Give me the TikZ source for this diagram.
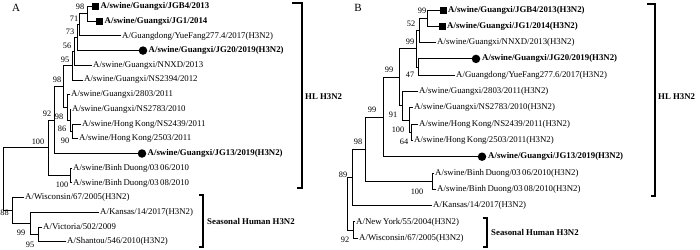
\documentclass[tikz,border=0pt]{standalone}
\usepackage{fontspec}
\setmainfont{Liberation Serif}
\newcommand\tfs{\fontsize{8.8}{10}\selectfont}
\newcommand\bfs{\fontsize{8.3}{9}\selectfont}
\begin{document}
\begin{tikzpicture}[x=1pt,y=-1pt,
  br/.style={line width=0.9pt, line cap=rect},
  lf/.style={anchor=west, inner sep=1pt, font=\tfs},
  blf/.style={anchor=west, inner sep=1pt, font=\tfs\bfseries},
  bs/.style={inner sep=0pt, font=\bfs},
  sq/.style={fill=black, minimum size=7pt, inner sep=0pt},
  dt/.style={circle, fill=black, minimum size=8.5pt, inner sep=0pt},
  brk/.style={line width=1.1pt},
  cl/.style={anchor=west, inner sep=0pt, font=\tfs\bfseries},
  pl/.style={inner sep=0pt, font=\fontsize{11}{12}\selectfont}]
\useasboundingbox (0,0) rectangle (700,249);

% ================= Panel A =================
\node[pl] (pA) at (16,8) {A};
% leaves
\node[sq] (mA1) at (95.5,6.5) {};
\node[blf] (tA1) at (99.5,6.5) {A/swine/Guangxi/JGB4/2013};
\node[sq] (mA2) at (99.5,21.2) {};
\node[blf] (tA2) at (103.5,21.2) {A/swine/Guangxi/JG1/2014};
\node[lf] (tA3) at (121,35.9) {A/Guangdong/YueFang277.4/2017(H3N2)};
\node[dt] (mA4) at (143,50.6) {};
\node[blf] (tA4) at (147.5,50.6) {A/swine/Guangxi/JG20/2019(H3N2)};
\node[lf] (tA5) at (92,65.3) {A/swine/Guangxi/NNXD/2013};
\node[lf] (tA6) at (83,80) {A/swine/Guangxi/NS2394/2012};
\node[lf] (tA7) at (70,94.7) {A/swine/Guangxi/2803/2011};
\node[lf] (tA8) at (71,109.4) {A/swine/Guangxi/NS2783/2010};
\node[lf] (tA9) at (81,124.1) {A/swine/Hong\,Kong/NS2439/2011};
\node[lf] (tA10) at (78,138.8) {A/swine/Hong\,Kong/2503/2011};
\node[dt] (mA11) at (142,153.5) {};
\node[blf] (tA11) at (146.5,153.5) {A/swine/Guangxi/JG13/2019(H3N2)};
\node[lf] (tA12) at (72,168.2) {A/swine/Binh\,Duong/03\,06/2010};
\node[lf] (tA13) at (72,182.9) {A/swine/Binh\,Duong/03\,08/2010};
\node[lf] (tA14) at (24,197.6) {A/Wisconsin/67/2005(H3N2)};
\node[lf] (tA15) at (99,212.3) {A/Kansas/14/2017(H3N2)};
\node[lf] (tA16) at (42,227) {A/Victoria/502/2009};
\node[lf] (tA17) at (66,241.7) {A/Shantou/546/2010(H3N2)};
% internal nodes
\coordinate (a1) at (87,13.85);
\coordinate (a2) at (79,24.9);
\coordinate (a3) at (77,37.75);
\coordinate (a4) at (74,51.5);
\coordinate (a5) at (72.5,65.75);
\coordinate (ab3) at (72,131.45);
\coordinate (ab2) at (70,120.4);
\coordinate (ab1) at (67,107.55);
\coordinate (aX) at (63,86.65);
\coordinate (ac) at (54,120.1);
\coordinate (ae) at (70,175.55);
\coordinate (ad) at (48,147.8);
\coordinate (ah3) at (38,234.35);
\coordinate (ah2) at (30,223.3);
\coordinate (ah1) at (12,210.45);
\coordinate (ar) at (3,179);
% branches
\draw[br] (a1) |- (mA1.west);  \draw[br] (a1) |- (mA2.west);
\draw[br] (a2) |- (a1);        \draw[br] (a2) |- (tA3.west);
\draw[br] (a3) |- (a2);        \draw[br] (a3) |- (mA4.west);
\draw[br] (a4) |- (a3);        \draw[br] (a4) |- (tA5.west);
\draw[br] (a5) |- (a4);        \draw[br] (a5) |- (tA6.west);
\draw[br] (ab3) |- (tA9.west); \draw[br] (ab3) |- (tA10.west);
\draw[br] (ab2) |- (tA8.west); \draw[br] (ab2) |- (ab3);
\draw[br] (ab1) |- (tA7.west); \draw[br] (ab1) |- (ab2);
\draw[br] (aX) |- (a5);        \draw[br] (aX) |- (ab1);
\draw[br] (ac) |- (aX);        \draw[br] (ac) |- (mA11.west);
\draw[br] (ae) |- (tA12.west); \draw[br] (ae) |- (tA13.west);
\draw[br] (ad) |- (ac);        \draw[br] (ad) |- (ae);
\draw[br] (ah3) |- (tA16.west);\draw[br] (ah3) |- (tA17.west);
\draw[br] (ah2) |- (tA15.west);\draw[br] (ah2) |- (ah3);
\draw[br] (ah1) |- (tA14.west);\draw[br] (ah1) |- (ah2);
\draw[br] (ar) |- (ad);        \draw[br] (ar) |- (ah1);
% bootstrap values
\node[bs] (sA1) at (80,7) {98};
\node[bs] (sA2) at (74,19) {71};
\node[bs] (sA3) at (70,32) {73};
\node[bs] (sA4) at (67,46) {56};
\node[bs] (sA5) at (65,60) {95};
\node[bs] (sA6) at (57,80) {98};
\node[bs] (sA7) at (59,117) {98};
\node[bs] (sA8) at (47,114) {92};
\node[bs] (sA9) at (62,129) {86};
\node[bs] (sA10) at (65,141) {90};
\node[bs] (sA11) at (38,142) {100};
\node[bs] (sA12) at (62,185) {100};
\node[bs] (sA13) at (4.5,213) {88};
\node[bs] (sA14) at (21,233) {99};
\node[bs] (sA15) at (30,245) {95};
% clade brackets
\coordinate (hA1) at (292,3);  \coordinate (hA2) at (302,3);
\coordinate (hA3) at (302,188);\coordinate (hA4) at (297,188);
\draw[brk] (hA1) -- (hA2) -- (hA3) -- (hA4);
\node[cl] (cA1) at (305,97) {HL H3N2};
\coordinate (sA1a) at (199,195); \coordinate (sA1b) at (203,195);
\coordinate (sA1c) at (203,247); \coordinate (sA1d) at (199,247);
\draw[brk] (sA1a) -- (sA1b) -- (sA1c) -- (sA1d);
\node[cl] (cA2) at (207,221) {Seasonal Human H3N2};

% ================= Panel B =================
\node[pl] (pB) at (358,8) {B};
\node[sq] (mB1) at (443,10) {};
\node[blf] (tB1) at (447,10) {A/swine/Guangxi/JGB4/2013(H3N2)};
\node[sq] (mB2) at (442,26.3) {};
\node[blf] (tB2) at (446,26.3) {A/swine/Guangxi/JG1/2014(H3N2)};
\node[lf] (tB3) at (436,42.6) {A/swine/Guangxi/NNXD/2013(H3N2)};
\node[dt] (mB4) at (476,58.9) {};
\node[blf] (tB4) at (481,58.9) {A/swine/Guangxi/JG20/2019(H3N2)};
\node[lf] (tB5) at (455,75.2) {A/Guangdong/YueFang277.6/2017(H3N2)};
\node[lf] (tB6) at (418,91.5) {A/swine/Guangxi/2803/2011(H3N2)};
\node[lf] (tB7) at (413,107.8) {A/swine/Guangxi/NS2783/2010(H3N2)};
\node[lf] (tB8) at (418,124.1) {A/swine/Hong\,Kong/NS2439/2011(H3N2)};
\node[lf] (tB9) at (413,140.4) {A/swine/Hong\,Kong/2503/2011(H3N2)};
\node[dt] (mB10) at (482,156.7) {};
\node[blf] (tB10) at (487,156.7) {A/swine/Guangxi/JG13/2019(H3N2)};
\node[lf] (tB11) at (434,173) {A/swine/Binh\,Duong/03\,06/2010(H3N2)};
\node[lf] (tB12) at (436,189.3) {A/swine/Binh\,Duong/03\,08/2010(H3N2)};
\node[lf] (tB13) at (432,205.6) {A/Kansas/14/2017(H3N2)};
\node[lf] (tB14) at (355,221.9) {A/New\,York/55/2004(H3N2)};
\node[lf] (tB15) at (358,238.2) {A/Wisconsin/67/2005(H3N2)};
\coordinate (b1) at (427,18.15);
\coordinate (b2) at (419,30.4);
\coordinate (bJY) at (418,67.05);
\coordinate (b3) at (416,48.7);
\coordinate (b7) at (411,132.25);
\coordinate (b6) at (409,120);
\coordinate (b5) at (402,105.75);
\coordinate (b4) at (399,77.2);
\coordinate (b8) at (383,116.95);
\coordinate (b11) at (432,181.15);
\coordinate (b10) at (365,149.05);
\coordinate (b12) at (352,177.3);
\coordinate (b13) at (353,230.05);
\coordinate (br0) at (347,200);
\draw[br] (b1) |- (mB1.west);  \draw[br] (b1) |- (mB2.west);
\draw[br] (b2) |- (b1);        \draw[br] (b2) |- (tB3.west);
\draw[br] (bJY) |- (mB4.west); \draw[br] (bJY) |- (tB5.west);
\draw[br] (b3) |- (b2);        \draw[br] (b3) |- (bJY);
\draw[br] (b7) |- (tB8.west);  \draw[br] (b7) |- (tB9.west);
\draw[br] (b6) |- (tB7.west);  \draw[br] (b6) |- (b7);
\draw[br] (b5) |- (tB6.west);  \draw[br] (b5) |- (b6);
\draw[br] (b4) |- (b3);        \draw[br] (b4) |- (b5);
\draw[br] (b8) |- (b4);        \draw[br] (b8) |- (mB10.west);
\draw[br] (b11) |- (tB11.west);\draw[br] (b11) |- (tB12.west);
\draw[br] (b10) |- (b8);       \draw[br] (b10) |- (b11);
\draw[br] (b12) |- (b10);      \draw[br] (b12) |- (tB13.west);
\draw[br] (b13) |- (tB14.west);\draw[br] (b13) |- (tB15.west);
\draw[br] (br0) |- (b12);      \draw[br] (br0) |- (b13);
\node[bs] (sB1) at (422,11) {99};
\node[bs] (sB2) at (411,24) {52};
\node[bs] (sB3) at (410,42) {99};
\node[bs] (sB4) at (410,75) {47};
\node[bs] (sB5) at (389,70) {99};
\node[bs] (sB6) at (372,110) {99};
\node[bs] (sB7) at (393,115) {91};
\node[bs] (sB8) at (398,130) {100};
\node[bs] (sB9) at (404,142) {64};
\node[bs] (sB10) at (358,142) {98};
\node[bs] (sB11) at (417,192) {100};
\node[bs] (sB12) at (343,175) {89};
\node[bs] (sB13) at (345,240) {92};
\coordinate (hB1) at (647,4);  \coordinate (hB2) at (655,4);
\coordinate (hB3) at (655,196);\coordinate (hB4) at (651,196);
\draw[brk] (hB1) -- (hB2) -- (hB3) -- (hB4);
\node[cl] (cB1) at (658,97) {HL H3N2};
\coordinate (sB1a) at (483,218); \coordinate (sB1b) at (487,218);
\coordinate (sB1c) at (487,247); \coordinate (sB1d) at (483,247);
\draw[brk] (sB1a) -- (sB1b) -- (sB1c) -- (sB1d);
\node[cl] (cB2) at (491,232) {Seasonal Human H3N2};
\end{tikzpicture}
\end{document}
